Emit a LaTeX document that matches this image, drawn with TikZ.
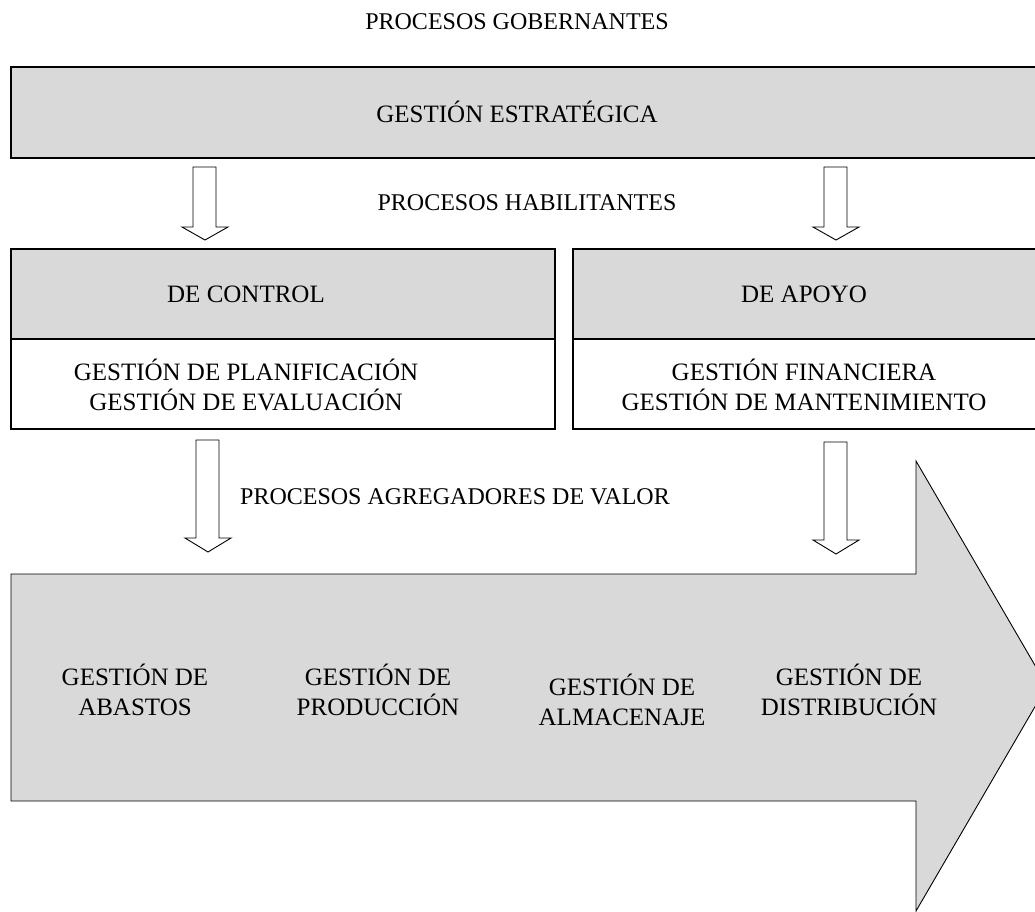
\documentclass[tikz,border=0pt]{standalone}
\usepackage{fontspec}
\setmainfont{Liberation Serif}
\begin{document}
\begin{tikzpicture}[x=1pt,y=-1pt,
  every node/.style={font=\fontsize{24}{30}\selectfont, align=center, inner sep=0pt},
  boxtext/.style={font=\fontsize{25}{30}\selectfont},
  graybox/.style={draw=black, line width=1.1pt, fill=boxgray},
  whitebox/.style={draw=black, line width=1.1pt, fill=white},
  blockarrow/.style={draw=black, line width=0.9pt, fill=white, line join=miter}]
\definecolor{boxgray}{RGB}{217,217,217}
\useasboundingbox (0,0) rectangle (1035,911);
% top box
\draw[graybox] (11,67) rectangle (1045,158);
\node (gob) at (517,22) {PROCESOS GOBERNANTES};
\node[boxtext] (est) at (517,112) {GESTIÓN ESTRATÉGICA};
% arrows 1 and 2
\draw[blockarrow] (193,167) -- (216,167) -- (216,227) -- (228,227) -- (205,240) -- (182,227) -- (193,227) -- cycle;
\draw[blockarrow] (824,167) -- (847,167) -- (847,227) -- (859,227) -- (836,240) -- (813,227) -- (824,227) -- cycle;
\node (hab) at (527,203) {PROCESOS HABILITANTES};
% de control
\draw[graybox] (11,249) rectangle (555,339);
\draw[whitebox] (11,339) rectangle (555,429);
\node[boxtext] (ctl) at (246,294) {DE CONTROL};
\node[boxtext] (ctlb) at (246,385) {GESTIÓN DE PLANIFICACIÓN\\GESTIÓN DE EVALUACIÓN};
% de apoyo
\draw[graybox] (573,249) rectangle (1045,339);
\draw[whitebox] (573,339) rectangle (1045,429);
\node[boxtext] (apo) at (804,294) {DE APOYO};
\node[boxtext] (apob) at (804,385) {GESTIÓN FINANCIERA\\GESTIÓN DE MANTENIMIENTO};
% arrows 3 and 4
\draw[blockarrow] (196,440) -- (219,440) -- (219,538) -- (231,538) -- (208,552) -- (185,538) -- (196,538) -- cycle;
\draw[blockarrow] (824,442) -- (847,442) -- (847,540) -- (859,540) -- (836,554) -- (813,540) -- (824,540) -- cycle;
\node (agr) at (455,497) {PROCESOS AGREGADORES DE VALOR};
% big arrow
\draw[graybox, line width=0.9pt, line join=miter] (11,574) -- (916,574) -- (916,461) -- (1047,686) -- (916,911) -- (916,801) -- (11,801) -- cycle;
\node[boxtext] (aba) at (135,690) {GESTIÓN DE\\ABASTOS};
\node[boxtext] (pro) at (378,690) {GESTIÓN DE\\PRODUCCIÓN};
\node[boxtext] (alm) at (622,700) {GESTIÓN DE\\ALMACENAJE};
\node[boxtext] (dis) at (849,690) {GESTIÓN DE\\DISTRIBUCIÓN};
\end{tikzpicture}
\end{document}
